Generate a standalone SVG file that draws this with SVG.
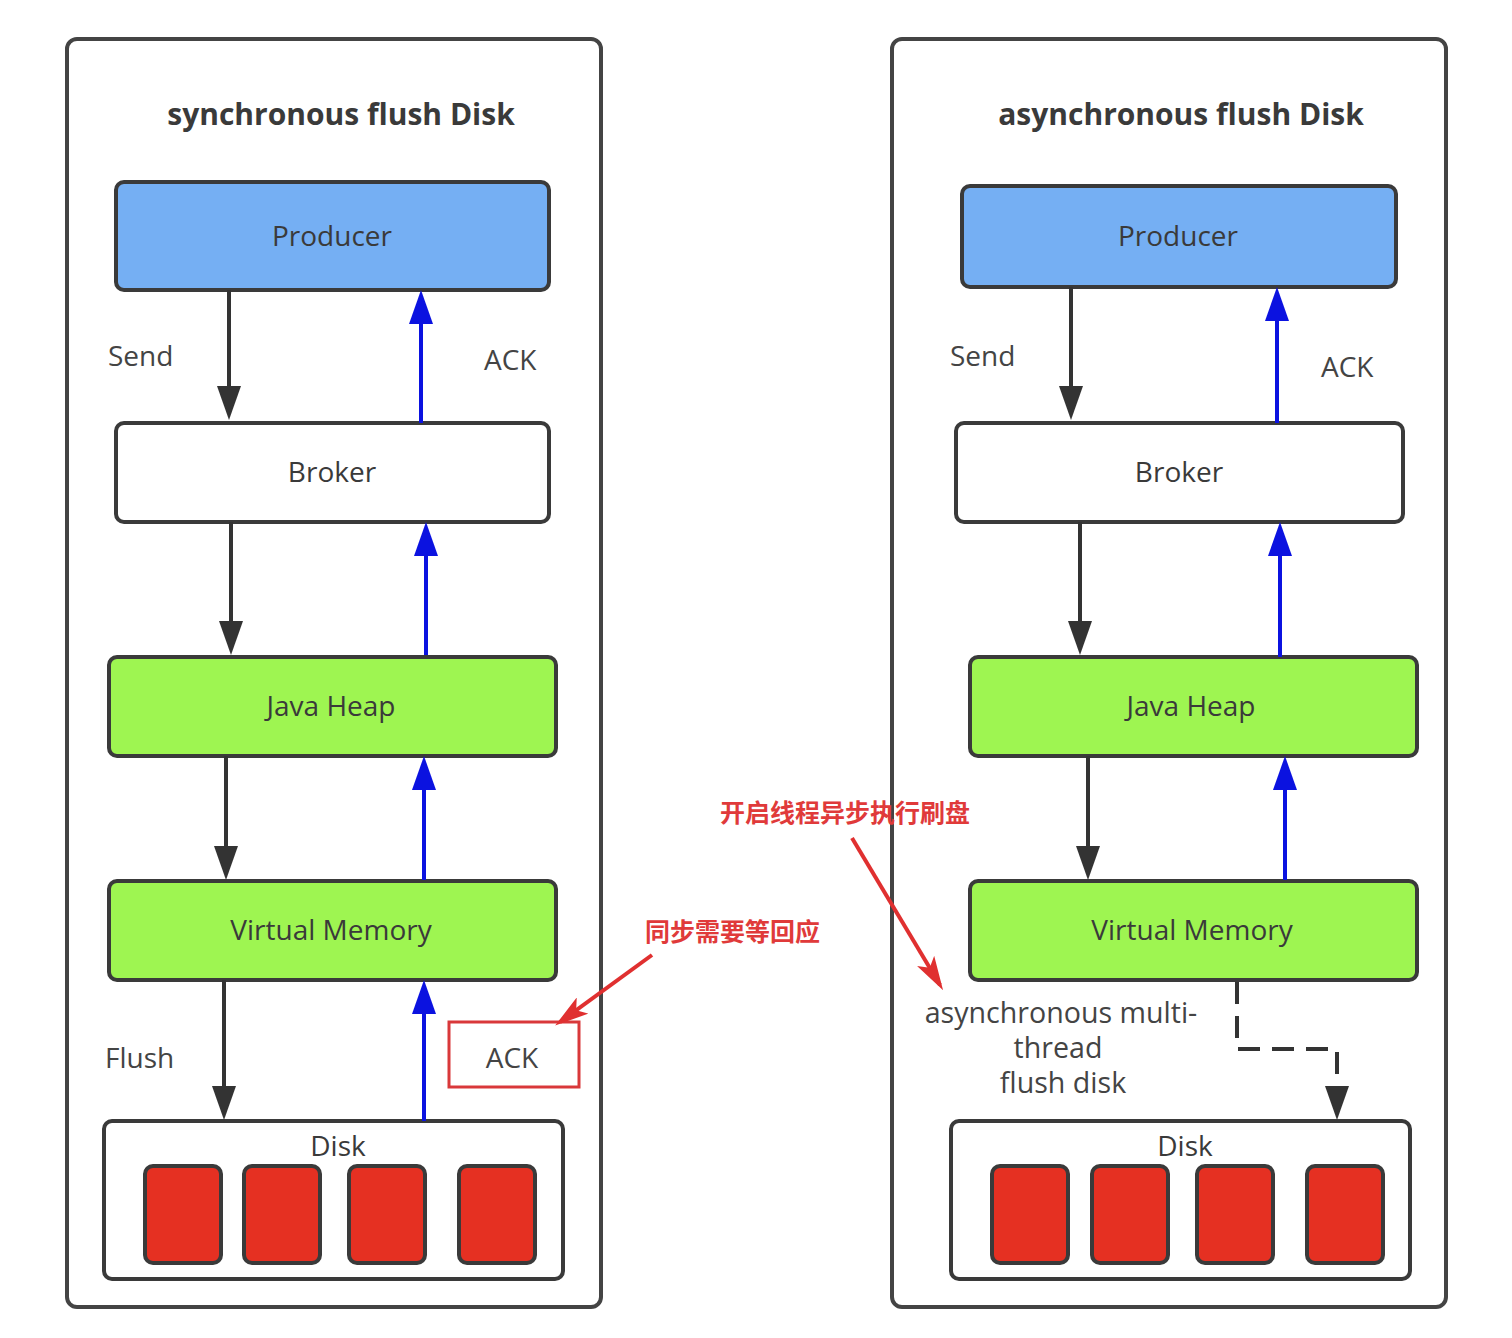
<svg xmlns="http://www.w3.org/2000/svg" width="1512" height="1338" viewBox="0 0 1512 1338">
<style>
.frame{fill:#fff;stroke:#444;stroke-width:4}
.box{stroke:#3a3a3a;stroke-width:4}
.blue{fill:#75aff3}
.white{fill:#fff}
.green{fill:#9ef551}
.red{fill:#e53022;stroke:#3a3a3a;stroke-width:4}
.t{font-family:"Open Sans","Noto Sans","DejaVu Sans",sans-serif;fill:#3a3a3a;font-size:28px}
.title{font-family:"Open Sans","Noto Sans","DejaVu Sans",sans-serif;fill:#3a3a3a;font-size:30px;font-weight:bold}
.lbl{font-family:"Open Sans","Noto Sans","DejaVu Sans",sans-serif;fill:#444;font-size:28px}
.lbl2{font-family:"Open Sans","Noto Sans","DejaVu Sans",sans-serif;fill:#444;font-size:28.6px}
.cn{font-family:"Noto Sans CJK SC",sans-serif;fill:#e03a3a;font-size:25px;font-weight:bold}
.dk{stroke:#333;stroke-width:4;fill:none;marker-end:url(#ad)}
.bl{stroke:#0b12e0;stroke-width:4;fill:none;marker-end:url(#ab)}
.rd{stroke:#e03030;stroke-width:4;fill:none;marker-end:url(#ar)}
</style>
<defs>
<marker id="ad" viewBox="0 0 34 24" refX="26" refY="12" markerWidth="34" markerHeight="24" markerUnits="userSpaceOnUse" orient="auto"><path d="M0,0 L34,12 L0,24 z" fill="#333"/></marker>
<marker id="ab" viewBox="0 0 34 24" refX="26" refY="12" markerWidth="34" markerHeight="24" markerUnits="userSpaceOnUse" orient="auto"><path d="M0,0 L34,12 L0,24 z" fill="#0b12e0"/></marker>
<marker id="ar" viewBox="0 0 34 20" refX="28" refY="10" markerWidth="34" markerHeight="20" markerUnits="userSpaceOnUse" orient="auto"><path d="M0,0 L34,10 L0,20 L8,10 z" fill="#e03030"/></marker>
</defs>

<g id="sync-frame">
<rect class="frame" x="67" y="39" width="534" height="1268" rx="10"/>
<text class="title" x="341" y="125" text-anchor="middle">synchronous flush Disk</text>
</g>
<g id="async-frame">
<rect class="frame" x="892" y="39" width="554" height="1268" rx="10"/>
<text class="title" x="1181" y="125" text-anchor="middle">asynchronous flush Disk</text>
</g>

<g id="s-producer"><rect class="box blue" x="116" y="182" width="433" height="108" rx="8"/><text class="t" x="332" y="246" text-anchor="middle">Producer</text></g>
<g id="s-broker"><rect class="box white" x="116" y="423" width="433" height="99" rx="8"/><text class="t" x="332" y="482" text-anchor="middle">Broker</text></g>
<g id="s-heap"><rect class="box green" x="109" y="657" width="447" height="99" rx="8"/><text class="t" x="331" y="716" text-anchor="middle">Java Heap</text></g>
<g id="s-vm"><rect class="box green" x="109" y="881" width="447" height="99" rx="8"/><text class="t" x="331" y="940" text-anchor="middle">Virtual Memory</text></g>
<g id="s-disk">
<rect class="box white" x="104" y="1121" width="459" height="158" rx="8"/>
<text class="t" x="338" y="1156" text-anchor="middle">Disk</text>
<rect class="red" x="145" y="1166" width="76" height="97" rx="8"/>
<rect class="red" x="244" y="1166" width="76" height="97" rx="8"/>
<rect class="red" x="349" y="1166" width="76" height="97" rx="8"/>
<rect class="red" x="459" y="1166" width="76" height="97" rx="8"/>
</g>
<g id="s-ackbox"><rect x="449" y="1022" width="130" height="65" fill="#fff" stroke="#d9383a" stroke-width="3"/><text class="lbl" x="512" y="1068" text-anchor="middle">ACK</text></g>

<g id="a-producer"><rect class="box blue" x="962" y="186" width="434" height="101" rx="8"/><text class="t" x="1178" y="246" text-anchor="middle">Producer</text></g>
<g id="a-broker"><rect class="box white" x="956" y="423" width="447" height="99" rx="8"/><text class="t" x="1179" y="482" text-anchor="middle">Broker</text></g>
<g id="a-heap"><rect class="box green" x="970" y="657" width="447" height="99" rx="8"/><text class="t" x="1191" y="716" text-anchor="middle">Java Heap</text></g>
<g id="a-vm"><rect class="box green" x="970" y="881" width="447" height="99" rx="8"/><text class="t" x="1192" y="940" text-anchor="middle">Virtual Memory</text></g>
<g id="a-disk">
<rect class="box white" x="951" y="1121" width="459" height="158" rx="8"/>
<text class="t" x="1185" y="1156" text-anchor="middle">Disk</text>
<rect class="red" x="992" y="1166" width="76" height="97" rx="8"/>
<rect class="red" x="1092" y="1166" width="76" height="97" rx="8"/>
<rect class="red" x="1197" y="1166" width="76" height="97" rx="8"/>
<rect class="red" x="1307" y="1166" width="76" height="97" rx="8"/>
</g>

<g id="labels">
<text class="lbl" x="108" y="366">Send</text>
<text class="lbl" x="484" y="370">ACK</text>
<text class="lbl" x="105" y="1068">Flush</text>
<text class="lbl" x="950" y="366">Send</text>
<text class="lbl" x="1321" y="377">ACK</text>
<text class="lbl2" x="1061" y="1023" text-anchor="middle">asynchronous multi-</text>
<text class="lbl2" x="1058" y="1058" text-anchor="middle">thread</text>
<text class="lbl2" x="1063" y="1093" text-anchor="middle">flush disk</text>
<text class="cn" x="645" y="941">同步需要等回应</text>
<text class="cn" x="720" y="822">开启线程异步执行刷盘</text>
</g>

<g id="connectors">
<path class="dk" d="M229,290 V412"/>
<path class="bl" d="M421,423 V298"/>
<path class="dk" d="M231,522 V647"/>
<path class="bl" d="M426,655 V530"/>
<path class="dk" d="M226,756 V872"/>
<path class="bl" d="M424,880 V764"/>
<path class="dk" d="M224,980 V1112"/>
<path class="bl" d="M424,1121 V988"/>
<path class="dk" d="M1071,287 V412"/>
<path class="bl" d="M1277,423 V295"/>
<path class="dk" d="M1080,522 V647"/>
<path class="bl" d="M1280,657 V530"/>
<path class="dk" d="M1088,756 V872"/>
<path class="bl" d="M1285,880 V764"/>
<path d="M1237,982 V1049 H1337 V1090" fill="none" stroke="#333" stroke-width="4" stroke-dasharray="22,12"/>
<path class="dk" d="M1337,1088 V1112"/>
<path class="rd" d="M652,955 L560,1022"/>
<path class="rd" d="M852,838 L940,985"/>
</g>
</svg>
